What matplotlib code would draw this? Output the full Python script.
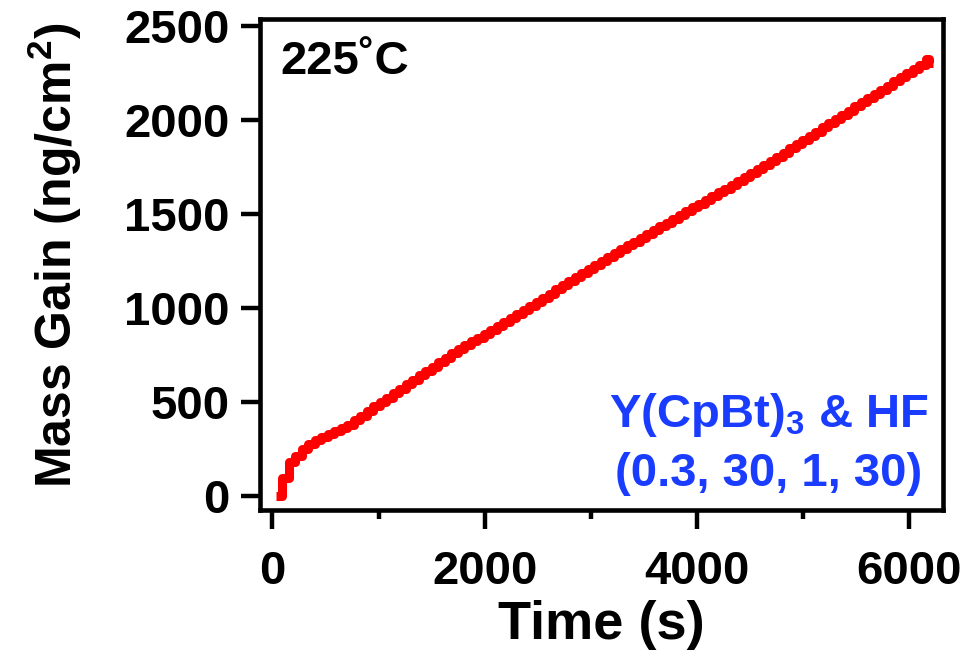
import matplotlib
matplotlib.use("Agg")
import matplotlib.pyplot as plt
from matplotlib.ticker import FixedLocator

# ---- data ----
time_s = [33.0,
          90.0, 151.3, 212.6, 273.9, 335.2, 396.5, 457.8, 519.1, 580.4, 641.7,
          703.0, 764.3, 825.6, 886.9, 948.2, 1009.5, 1070.8, 1132.1, 1193.4, 1254.7,
          1316.0, 1377.3, 1438.6, 1499.9, 1561.2, 1622.5, 1683.8, 1745.1, 1806.4, 1867.7,
          1929.0, 1990.3, 2051.6, 2112.9, 2174.2, 2235.5, 2296.8, 2358.1, 2419.4, 2480.7,
          2542.0, 2603.3, 2664.6, 2725.9, 2787.2, 2848.5, 2909.8, 2971.1, 3032.4, 3093.7,
          3155.0, 3216.3, 3277.6, 3338.9, 3400.2, 3461.5, 3522.8, 3584.1, 3645.4, 3706.7,
          3768.0, 3829.3, 3890.6, 3951.9, 4013.2, 4074.5, 4135.8, 4197.1, 4258.4, 4319.7,
          4381.0, 4442.3, 4503.6, 4564.9, 4626.2, 4687.5, 4748.8, 4810.1, 4871.4, 4932.7,
          4994.0, 5055.3, 5116.6, 5177.9, 5239.2, 5300.5, 5361.8, 5423.1, 5484.4, 5545.7,
          5607.0, 5668.3, 5729.6, 5790.9, 5852.2, 5913.5, 5974.8, 6036.1, 6097.4, 6158.7,
          6189.0, 6231.0]

mass_gain = [0,
             95, 180, 212, 251, 277, 300, 315, 330, 346, 362,
             378, 403, 428, 452, 476, 500, 523, 547, 570, 594,
             617, 641, 665, 688, 712, 735, 759, 780, 801, 822,
             842, 863, 884, 905, 926, 947, 968, 989, 1011, 1033,
             1054, 1076, 1098, 1120, 1141, 1163, 1185, 1207, 1229, 1250,
             1271, 1292, 1312, 1332, 1352, 1372, 1392, 1413, 1433, 1453,
             1473, 1493, 1513, 1534, 1554, 1574, 1594, 1614, 1634, 1655,
             1675, 1695, 1715, 1737, 1760, 1782, 1804, 1826, 1849, 1871,
             1893, 1915, 1937, 1960, 1982, 2004, 2026, 2049, 2071, 2093,
             2115, 2138, 2160, 2182, 2204, 2227, 2249, 2271, 2293, 2322,
             2300, 2300]

x_major = [0, 2000, 4000, 6000]
x_minor = [1000, 3000, 5000]
y_major = [0, 500, 1000, 1500, 2000, 2500]

temp_label = "225\u02daC"
recipe_line1 = r"Y(CpBt)$_3$ & HF"
recipe_line2 = "(0.3, 30, 1, 30)"

# ---- styling ----
plt.rcParams['font.family'] = ['Liberation Sans', 'DejaVu Sans']
plt.rcParams['font.weight'] = 'bold'
plt.rcParams['mathtext.fontset'] = 'custom'
plt.rcParams['mathtext.rm'] = 'Liberation Sans:bold'
plt.rcParams['mathtext.it'] = 'Liberation Sans:bold'
plt.rcParams['mathtext.bf'] = 'Liberation Sans:bold'

fig = plt.figure(figsize=(9.66, 6.56), dpi=100)
ax = fig.add_axes([0.2688, 0.2218, 0.9757 - 0.2688, 0.9710 - 0.2218])

ax.plot(time_s, mass_gain, color='#FF0000', lw=6.5, drawstyle='steps-post',
        solid_joinstyle='round', solid_capstyle='butt')

ax.set_xlim(-121, 6318)
ax.set_ylim(-77, 2536)
ax.xaxis.set_major_locator(FixedLocator(x_major))
ax.xaxis.set_minor_locator(FixedLocator(x_minor))
ax.yaxis.set_major_locator(FixedLocator(y_major))

for sp in ax.spines.values():
    sp.set_linewidth(3.3)
    sp.set_color('black')

ax.tick_params(axis='both', which='major', direction='out', length=13.5, width=3.2,
               labelsize=34, top=False, right=False)
ax.tick_params(axis='x', which='major', pad=15)
ax.tick_params(axis='y', which='major', pad=8)
ax.tick_params(axis='x', which='minor', direction='out', length=6.7, width=3.2)
for lab in ax.get_xticklabels() + ax.get_yticklabels():
    lab.set_fontweight('bold')

ax.set_xlabel("Time (s)", fontsize=39, fontweight='bold')
ax.set_ylabel(r"Mass Gain (ng/cm$^2$)", fontsize=36, fontweight='bold')
ax.xaxis.set_label_coords(0.5, -0.232)
ax.xaxis.label.set_va('center')
ax.yaxis.set_label_coords(-0.30, 0.52)
ax.yaxis.label.set_va('center')

ax.text(0.03, 0.912, temp_label, transform=ax.transAxes, fontsize=34,
        fontweight='bold', ha='left', va='center', color='black')
ax.text(0.745, 0.195, recipe_line1, transform=ax.transAxes, fontsize=34,
        fontweight='bold', ha='center', va='center', color='#1A3CFF')
ax.text(0.745, 0.075, recipe_line2, transform=ax.transAxes, fontsize=34,
        fontweight='bold', ha='center', va='center', color='#1A3CFF')

fig.savefig("out.png", dpi=100)
